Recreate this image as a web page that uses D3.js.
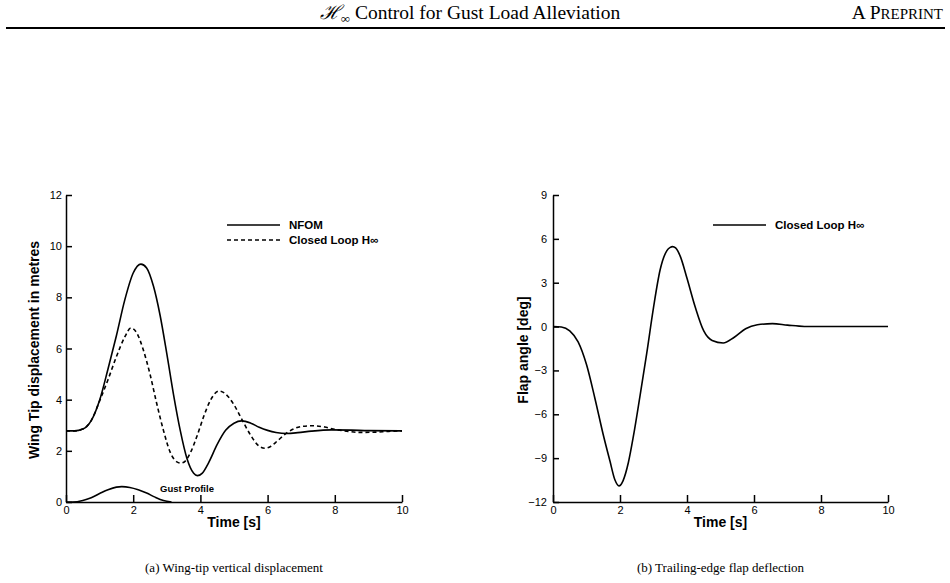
<!DOCTYPE html>
<html lang="en">
<head>
<meta charset="UTF-8">
<title>Gust Load Alleviation</title>
<script src="https://d3js.org/d3.v7.min.js"></script>
<style>
  body { margin: 0; background: #fff; }
  svg { display: block; font-family: "Liberation Sans", Arial, sans-serif; }
  .serif { font-family: "Liberation Serif", "Times New Roman", serif; }
  .tick text { font-size: 11px; fill: #000; }
</style>
</head>
<body>
<div id="chart"></div>
<script>
// wing-tip displacement (m) vs time (s)
const nfomTime = [0, 0.25, 0.5, 0.75, 1.0, 1.25, 1.5, 1.75, 2.0, 2.23, 2.4, 2.6, 2.8, 3.0, 3.2, 3.4, 3.6, 3.8, 3.91, 4.05, 4.25, 4.5, 4.75, 5.0, 5.23, 5.5, 5.75, 6.0, 6.25, 6.57, 6.9, 7.3, 7.9, 8.5, 9.0, 10];
const nfomVal  = [2.78, 2.78, 2.85, 3.18, 3.98, 5.2, 6.5, 7.9, 8.95, 9.3, 9.15, 8.45, 7.3, 5.8, 4.2, 2.8, 1.7, 1.12, 1.03, 1.12, 1.55, 2.25, 2.8, 3.08, 3.17, 3.08, 2.92, 2.8, 2.72, 2.68, 2.71, 2.77, 2.82, 2.81, 2.79, 2.78];

const hinfTime = [0, 0.25, 0.5, 0.75, 1.0, 1.25, 1.5, 1.75, 1.93, 2.1, 2.3, 2.5, 2.7, 2.9, 3.1, 3.3, 3.42, 3.55, 3.7, 3.9, 4.1, 4.3, 4.56, 4.75, 5.0, 5.25, 5.5, 5.75, 5.92, 6.1, 6.3, 6.55, 6.8, 7.05, 7.36, 7.7, 8.0, 8.4, 8.75, 9.2, 9.6, 10];
const hinfVal  = [2.78, 2.78, 2.85, 3.18, 3.95, 4.78, 5.68, 6.45, 6.8, 6.62, 5.95, 5.0, 3.85, 2.8, 1.95, 1.57, 1.52, 1.6, 1.92, 2.58, 3.35, 3.98, 4.34, 4.22, 3.8, 3.19, 2.6, 2.18, 2.1, 2.18, 2.4, 2.68, 2.87, 2.96, 2.98, 2.93, 2.84, 2.76, 2.72, 2.73, 2.76, 2.78];

const gustTime = [0, 0.2, 0.5, 0.75, 1.0, 1.25, 1.5, 1.66, 1.9, 2.15, 2.4, 2.65, 2.9, 3.14];
const gustVal  = [0, 0, 0.06, 0.17, 0.33, 0.48, 0.58, 0.6, 0.57, 0.48, 0.35, 0.19, 0.06, 0];

// flap angle (deg) vs time (s)
const flapTime = [0, 0.25, 0.5, 0.75, 1.0, 1.25, 1.5, 1.7, 1.85, 1.97, 2.09, 2.25, 2.4, 2.6, 2.8, 3.0, 3.2, 3.4, 3.5, 3.57, 3.66, 3.8, 4.0, 4.25, 4.5, 4.75, 5.08, 5.4, 5.75, 6.1, 6.55, 7.0, 7.5, 8.0, 10];
const flapVal  = [0, -0.03, -0.3, -1.05, -2.6, -4.9, -7.4, -9.2, -10.5, -10.9, -10.55, -9.3, -7.5, -4.7, -1.8, 1.3, 3.9, 5.2, 5.42, 5.47, 5.38, 4.8, 3.3, 1.3, -0.3, -0.95, -1.12, -0.75, -0.15, 0.12, 0.2, 0.1, 0.01, 0, 0];

const xTicks = [0, 2, 4, 6, 8, 10];
const leftYTicks = [0, 2, 4, 6, 8, 10, 12];
const rightYTicks = [-12, -9, -6, -3, 0, 3, 6, 9];

const W = 950, H = 583;
const svg = d3.select("#chart").append("svg")
    .attr("width", W)
    .attr("height", H);

svg.append("rect").attr("width", W).attr("height", H).attr("fill", "#fff");

// page header
const header = svg.append("text")
    .attr("class", "serif")
    .attr("x", 470)
    .attr("y", 19)
    .attr("text-anchor", "middle")
    .attr("font-size", 19.5);
header.append("tspan").attr("font-style", "italic").text("ℋ");
header.append("tspan").attr("font-size", 13).attr("dy", 4).text("∞");
header.append("tspan").attr("dy", -4).text(" Control for Gust Load Alleviation");

const pre = svg.append("text")
    .attr("class", "serif")
    .attr("x", 943)
    .attr("y", 19)
    .attr("text-anchor", "end")
    .attr("font-size", 19.5);
pre.append("tspan").text("A P");
pre.append("tspan").attr("font-size", 15).text("REPRINT");

svg.append("line")
    .attr("x1", 6).attr("x2", 945)
    .attr("y1", 28).attr("y2", 28)
    .attr("stroke", "#000").attr("stroke-width", 2);

function drawPanel(opts) {
    const x = d3.scaleLinear().domain([0, 10]).range([opts.left, opts.right]);
    const y = d3.scaleLinear().domain(opts.yDomain).range([502, 195]);
    const g = svg.append("g");

    const xAxis = g.append("g")
        .attr("transform", "translate(0,502)")
        .call(d3.axisBottom(x).tickValues(xTicks).tickSizeInner(-7).tickSizeOuter(0).tickPadding(4));
    const yAxis = g.append("g")
        .attr("transform", `translate(${opts.left},0)`)
        .call(d3.axisLeft(y).tickValues(opts.yTicks).tickSizeInner(-6).tickSizeOuter(0).tickPadding(opts.yPad));
    [xAxis, yAxis].forEach(a => {
        a.select(".domain").attr("stroke-width", 1.5);
        a.selectAll(".tick line").attr("stroke-width", 1.5);
        a.attr("font-family", null).attr("font-size", null);
    });

    const line = d3.line()
        .x(d => x(d[0]))
        .y(d => y(d[1]))
        .curve(d3.curveMonotoneX);

    opts.series.forEach(s => {
        g.append("path")
            .datum(d3.zip(s.t, s.v))
            .attr("d", line)
            .attr("fill", "none")
            .attr("stroke", "#000")
            .attr("stroke-width", 1.6)
            .attr("stroke-dasharray", s.dash || null);
    });

    // legend
    opts.legend.forEach((l, i) => {
        const ly = 225 + i * 15;
        g.append("line")
            .attr("x1", opts.legendX).attr("x2", opts.legendX + 53)
            .attr("y1", ly).attr("y2", ly)
            .attr("stroke", "#000").attr("stroke-width", 1.6)
            .attr("stroke-dasharray", l.dash || null);
        g.append("text")
            .attr("x", opts.legendX + 62)
            .attr("y", ly + 4)
            .attr("font-size", 11.5)
            .attr("font-weight", "bold")
            .text(l.label);
    });

    g.append("text")
        .attr("x", (opts.left + opts.right) / 2)
        .attr("y", 527)
        .attr("text-anchor", "middle")
        .attr("font-size", 14)
        .attr("font-weight", "bold")
        .text("Time [s]");

    g.append("text")
        .attr("transform", `translate(${opts.titleX},350) rotate(-90)`)
        .attr("text-anchor", "middle")
        .attr("font-size", 14)
        .attr("font-weight", "bold")
        .text(opts.yTitle);

    g.append("text")
        .attr("class", "serif")
        .attr("x", (opts.left + opts.right) / 2)
        .attr("y", 572)
        .attr("text-anchor", "middle")
        .attr("font-size", 13)
        .text(opts.caption);

    return { g, x, y };
}

const left = drawPanel({
    left: 66, right: 402,
    yDomain: [0, 12], yTicks: leftYTicks, yPad: 4,
    titleX: 39,
    yTitle: "Wing Tip displacement in metres",
    caption: "(a) Wing-tip vertical displacement",
    legendX: 227,
    series: [
        { t: nfomTime, v: nfomVal },
        { t: hinfTime, v: hinfVal, dash: "4,3" },
        { t: gustTime, v: gustVal }
    ],
    legend: [
        { label: "NFOM" },
        { label: "Closed Loop H\u221E", dash: "4,3" }
    ]
});

left.g.append("text")
    .attr("x", 187)
    .attr("y", 492)
    .attr("text-anchor", "middle")
    .attr("font-size", 9.5)
    .attr("font-weight", "bold")
    .text("Gust Profile");

drawPanel({
    left: 553, right: 888,
    yDomain: [-12, 9], yTicks: rightYTicks, yPad: 6,
    titleX: 528,
    yTitle: "Flap angle [deg]",
    caption: "(b) Trailing-edge flap deflection",
    legendX: 713,
    series: [
        { t: flapTime, v: flapVal }
    ],
    legend: [
        { label: "Closed Loop H\u221E" }
    ]
});
</script>
</body>
</html>
